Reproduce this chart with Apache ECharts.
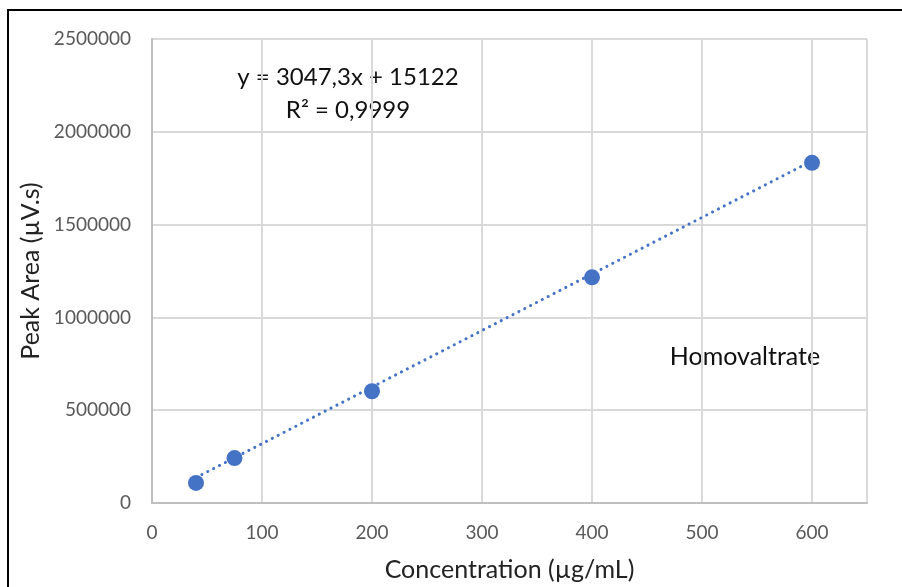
<!DOCTYPE html>
<html>
<head>
<meta charset="utf-8">
<script src="https://cdn.jsdelivr.net/npm/echarts@6/dist/echarts.min.js"></script>
<style>
  html, body { margin: 0; padding: 0; background: #fff; }
  #frame { position: absolute; left: 7px; top: 9px; width: 910px; height: 600px; border-left: 2px solid #000; border-top: 2px solid #000; }
  #main { position: absolute; left: 0; top: 0; width: 902px; height: 587px; }
</style>
</head>
<body>
<div id="frame"></div>
<div id="main"></div>
<script>
// measured points (concentration, peak area)
const concentration = [40, 75, 200, 400, 600];
const peakArea = [108000, 242000, 602000, 1216000, 1833000];
// linear trendline end points
const trendX = [40, 600];
const trendY = [137000, 1843500];
const equationText = "y = 3047,3x + 15122";
const r2Text = "R² = 0,9999";
const seriesLabel = "Homovaltrate";

const chart = echarts.init(document.getElementById("main"));

const font = "Lato, 'Open Sans', sans-serif";

let option = {
  animation: false,
  grid: { left: 152, right: 35, top: 39, bottom: 82 },
  xAxis: {
    type: "value",
    min: 0,
    max: 650,
    interval: 100,
    name: "Concentration (µg/mL)",
    nameLocation: "middle",
    nameGap: 54,
    nameTextStyle: { fontFamily: font, fontSize: 25, color: "#222" },
    axisLine: { show: true, lineStyle: { color: "#bfbfbf", width: 2 } },
    axisTick: { show: false },
    axisLabel: { fontFamily: font, fontSize: 19, color: "#595959", margin: 20,
      formatter: (v) => (v > 600 ? "" : String(v)) },
    splitLine: { show: true, lineStyle: { color: "#d9d9d9", width: 2 } },
  },
  yAxis: {
    type: "value",
    min: 0,
    max: 2500000,
    interval: 500000,
    name: "Peak Area (µV.s)",
    nameLocation: "middle",
    nameGap: 104,
    nameTextStyle: { fontFamily: font, fontSize: 25, color: "#222" },
    axisLine: { show: true, lineStyle: { color: "#bfbfbf", width: 2 } },
    axisTick: { show: false },
    axisLabel: { fontFamily: font, fontSize: 19, color: "#595959", margin: 21,
      formatter: (v) => String(v) },
    splitLine: { show: true, lineStyle: { color: "#d9d9d9", width: 2 } },
  },
  series: [
    {
      name: "trend",
      type: "line",
      data: trendX.map((x, i) => [x, trendY[i]]),
      symbol: "none",
      lineStyle: { color: "#4472c4", width: 3, type: [0.1, 6.5], cap: "round" },
      z: 2,
    },
    {
      name: seriesLabel,
      type: "scatter",
      data: concentration.map((x, i) => [x, peakArea[i]]),
      symbol: "circle",
      symbolSize: 16,
      itemStyle: { color: "#4472c4", opacity: 1 },
      z: 3,
    },
  ],
  graphic: [
    { type: "text", style: { x: 348, y: 77, text: equationText, fontFamily: font, fontSize: 24, fill: "#111", align: "center", verticalAlign: "middle" } },
    { type: "text", style: { x: 348, y: 110, text: r2Text, fontFamily: font, fontSize: 24, fill: "#111", align: "center", verticalAlign: "middle" } },
    { type: "text", style: { x: 745, y: 357, text: seriesLabel, fontFamily: font, fontSize: 25, fill: "#111", align: "center", verticalAlign: "middle" } },
  ],
};

chart.setOption(option);
</script>
</body>
</html>
